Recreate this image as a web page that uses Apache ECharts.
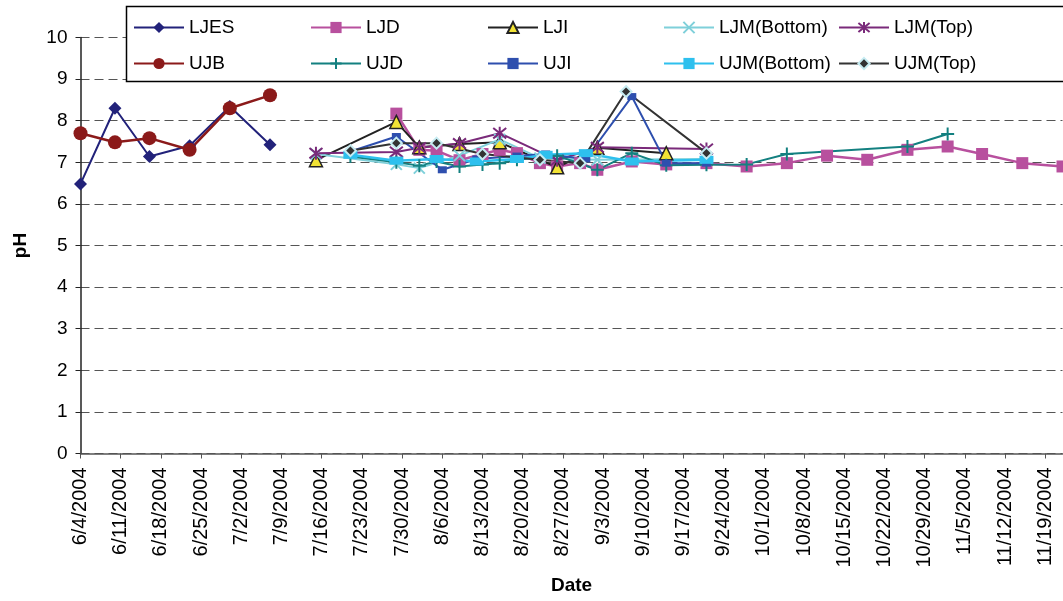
<!DOCTYPE html>
<html>
<head>
<meta charset="utf-8">
<script src="https://cdn.jsdelivr.net/npm/echarts@6/dist/echarts.min.js"></script>
<style>
  html, body { margin: 0; padding: 0; background: #fff; }
  #chart { width: 1063px; height: 601px; }
</style>
</head>
<body>
<div id="chart"></div>
<script>
// pH readings by sampling date (M/D/YYYY)
const ljesDates = ['6/4/2004', '6/10/2004', '6/16/2004', '6/23/2004', '6/30/2004', '7/7/2004'];
const ljesPH    = [6.48, 8.30, 7.14, 7.40, 8.34, 7.42];

const ljdDates = ['7/29/2004', '8/2/2004', '8/5/2004', '8/9/2004', '8/13/2004', '8/16/2004', '8/19/2004',
                  '8/23/2004', '8/26/2004', '8/30/2004', '9/2/2004', '9/8/2004', '9/14/2004', '9/21/2004',
                  '9/28/2004', '10/5/2004', '10/12/2004', '10/19/2004', '10/26/2004', '11/2/2004',
                  '11/8/2004', '11/15/2004', '11/22/2004'];
const ljdPH    = [8.17, 7.30, 7.28, 7.05, 7.20, 7.30, 7.22,
                  6.98, 6.90, 6.98, 6.82, 7.02, 6.95, 6.98,
                  6.90, 6.98, 7.16, 7.06, 7.30, 7.38,
                  7.20, 6.98, 6.90];

const ljiDates = ['7/15/2004', '7/29/2004', '8/2/2004', '8/9/2004', '8/16/2004', '8/26/2004', '9/2/2004', '9/14/2004'];
const ljiPH    = [7.05, 7.97, 7.36, 7.44, 7.48, 6.88, 7.35, 7.22];

const ljmBottomDates = ['7/15/2004', '7/29/2004', '8/2/2004', '8/9/2004', '8/16/2004', '8/23/2004', '9/2/2004', '9/21/2004'];
const ljmBottomPH    = [7.20, 6.95, 6.86, 7.16, 7.55, 7.10, 7.06, 7.08];

const ljmTopDates = ['7/15/2004', '7/29/2004', '8/2/2004', '8/9/2004', '8/16/2004', '8/26/2004', '9/2/2004', '9/21/2004'];
const ljmTopPH    = [7.22, 7.25, 7.35, 7.45, 7.70, 7.05, 7.36, 7.32];

const ujbDates = ['6/4/2004', '6/10/2004', '6/16/2004', '6/23/2004', '6/30/2004', '7/7/2004'];
const ujbPH    = [7.70, 7.48, 7.58, 7.30, 8.30, 8.61];

const ujdDates = ['7/21/2004', '7/29/2004', '8/2/2004', '8/5/2004', '8/9/2004', '8/13/2004', '8/16/2004',
                  '8/19/2004', '8/26/2004', '9/2/2004', '9/8/2004', '9/14/2004', '9/21/2004', '9/28/2004',
                  '10/5/2004', '10/26/2004', '11/2/2004'];
const ujdPH    = [7.14, 7.00, 6.92, 7.02, 6.90, 6.95, 6.98,
                  7.06, 7.16, 6.82, 7.22, 6.93, 6.94, 6.95,
                  7.20, 7.38, 7.68];

const ujiDates = ['7/21/2004', '7/29/2004', '8/6/2004', '8/12/2004', '8/19/2004', '8/24/2004', '8/31/2004', '9/8/2004', '9/14/2004', '9/21/2004'];
const ujiPH    = [7.26, 7.62, 6.82, 7.08, 7.15, 7.20, 7.08, 8.58, 6.98, 6.98];

const ujmBottomDates = ['7/21/2004', '7/29/2004', '8/5/2004', '8/12/2004', '8/19/2004', '8/24/2004', '8/31/2004', '9/8/2004', '9/21/2004'];
const ujmBottomPH    = [7.18, 7.04, 7.08, 7.02, 7.08, 7.18, 7.22, 7.02, 7.06];

const ujmTopDates = ['7/21/2004', '7/29/2004', '8/5/2004', '8/13/2004', '8/23/2004', '8/30/2004', '9/7/2004', '9/21/2004'];
const ujmTopPH    = [7.28, 7.46, 7.46, 7.20, 7.06, 6.98, 8.70, 7.22];

const yTicks = [0, 1, 2, 3, 4, 5, 6, 7, 8, 9, 10];

// Axis runs in whole days counted from the first sampling date, one tick per week
const DAY = 86400000;
const START = Date.UTC(2004, 5, 4);
function dayOf(s) {
  const [m, d, y] = s.split('/').map(Number);
  return Math.round((Date.UTC(y, m - 1, d) - START) / DAY);
}
function labelOf(day) {
  const t = new Date(START + day * DAY);
  return (t.getUTCMonth() + 1) + '/' + t.getUTCDate() + '/' + t.getUTCFullYear();
}
function pairs(dates, vals) { return dates.map((d, i) => [dayOf(d), vals[i]]); }

const FONT = "'Liberation Sans', Arial, sans-serif";
const SYM_X = 'path://M0,0L10,10M10,0L0,10';
const SYM_STAR = 'path://M1,1L9,9M9,1L1,9M5,0L5,10';
const SYM_PLUS = 'path://M0,5L10,5M5,0L5,10';

function line(name, dates, vals, color, lineWidth, symbol, symbolSize, itemStyle) {
  return {
    name, type: 'line', data: pairs(dates, vals),
    symbol, symbolSize, showSymbol: true,
    lineStyle: { color, width: lineWidth },
    itemStyle: Object.assign({ color, borderWidth: 0 }, itemStyle || {}),
    emphasis: { disabled: true },
    animation: false
  };
}

const series = [
  line('LJES', ljesDates, ljesPH, '#22227a', 2, 'diamond', 13),
  line('LJD', ljdDates, ljdPH, '#b8509e', 2.5, 'rect', 12),
  line('LJI', ljiDates, ljiPH, '#222222', 2, 'triangle', 13, { color: '#f2e335', borderColor: '#222222', borderWidth: 1.5 }),
  line('LJM(Bottom)', ljmBottomDates, ljmBottomPH, '#7fd0da', 2, SYM_X, 11, { color: '#7fd0da', borderColor: '#7fd0da', borderWidth: 2 }),
  line('LJM(Top)', ljmTopDates, ljmTopPH, '#7a2a7a', 2, SYM_STAR, 13, { color: '#7a2a7a', borderColor: '#7a2a7a', borderWidth: 2 }),
  line('UJB', ujbDates, ujbPH, '#8b1a1a', 2.5, 'circle', 14),
  line('UJD', ujdDates, ujdPH, '#138080', 2, SYM_PLUS, 13, { color: '#138080', borderColor: '#138080', borderWidth: 2 }),
  line('UJI', ujiDates, ujiPH, '#2e4fae', 2, 'rect', [9, 7]),
  line('UJM(Bottom)', ujmBottomDates, ujmBottomPH, '#2ec0ee', 2.5, 'rect', [14, 8]),
  line('UJM(Top)', ujmTopDates, ujmTopPH, '#333333', 2, 'diamond', 11, { color: '#333333', borderColor: '#c6ecf2', borderWidth: 2 })
];

// Two rows of five legend entries in fixed columns
const legendCols = [133, 310, 487, 663, 838];
const legendRows = [18, 54];
const legends = series.map((s, i) => ({
  data: [s.name],
  left: legendCols[i % 5],
  top: legendRows[Math.floor(i / 5)],
  orient: 'horizontal',
  itemWidth: 50,
  itemHeight: 14,
  padding: 0,
  selectedMode: false,
  z: 5,
  textStyle: { fontSize: 19, fontFamily: FONT, color: '#000' }
}));

const chart = echarts.init(document.getElementById('chart'), null, { renderer: 'canvas' });
chart.setOption({
  animation: false,
  backgroundColor: '#ffffff',
  grid: { left: 80.5, top: 37.5, width: 982, height: 416, containLabel: false },
  legend: legends,
  graphic: [
    {
      type: 'rect', z: 3,
      shape: { x: 126.5, y: 6.5, width: 960, height: 75 },
      style: { fill: '#ffffff', stroke: '#000000', lineWidth: 1.5 }
    }
  ],
  xAxis: {
    type: 'value', min: 0, max: 171, interval: 7,
    name: 'Date', nameLocation: 'middle', nameGap: 123,
    nameTextStyle: { fontSize: 19, fontWeight: 'bold', fontFamily: FONT, color: '#000' },
    axisLine: { show: true, lineStyle: { color: '#555555', width: 1.5 } },
    axisTick: { show: true, length: 5, inside: false, lineStyle: { color: '#555555' } },
    axisLabel: {
      rotate: 90, margin: 14, fontSize: 20, fontFamily: FONT, color: '#000',
      showMaxLabel: false,
      formatter: v => labelOf(v)
    },
    splitLine: { show: false }
  },
  yAxis: {
    type: 'value', min: yTicks[0], max: yTicks[yTicks.length - 1], interval: 1,
    name: 'pH', nameLocation: 'middle', nameGap: 50, nameRotate: 90,
    nameTextStyle: { fontSize: 19, fontWeight: 'bold', fontFamily: FONT, color: '#000' },
    axisLine: { show: true, lineStyle: { color: '#222222', width: 1.5 } },
    axisTick: { show: true, length: 5, inside: false, lineStyle: { color: '#222222' } },
    axisLabel: { margin: 13, fontSize: 19, fontFamily: FONT, color: '#000' },
    splitLine: { show: true, lineStyle: { color: '#555555', type: [9, 5], width: 1.2 } }
  },
  series
});
</script>
</body>
</html>
